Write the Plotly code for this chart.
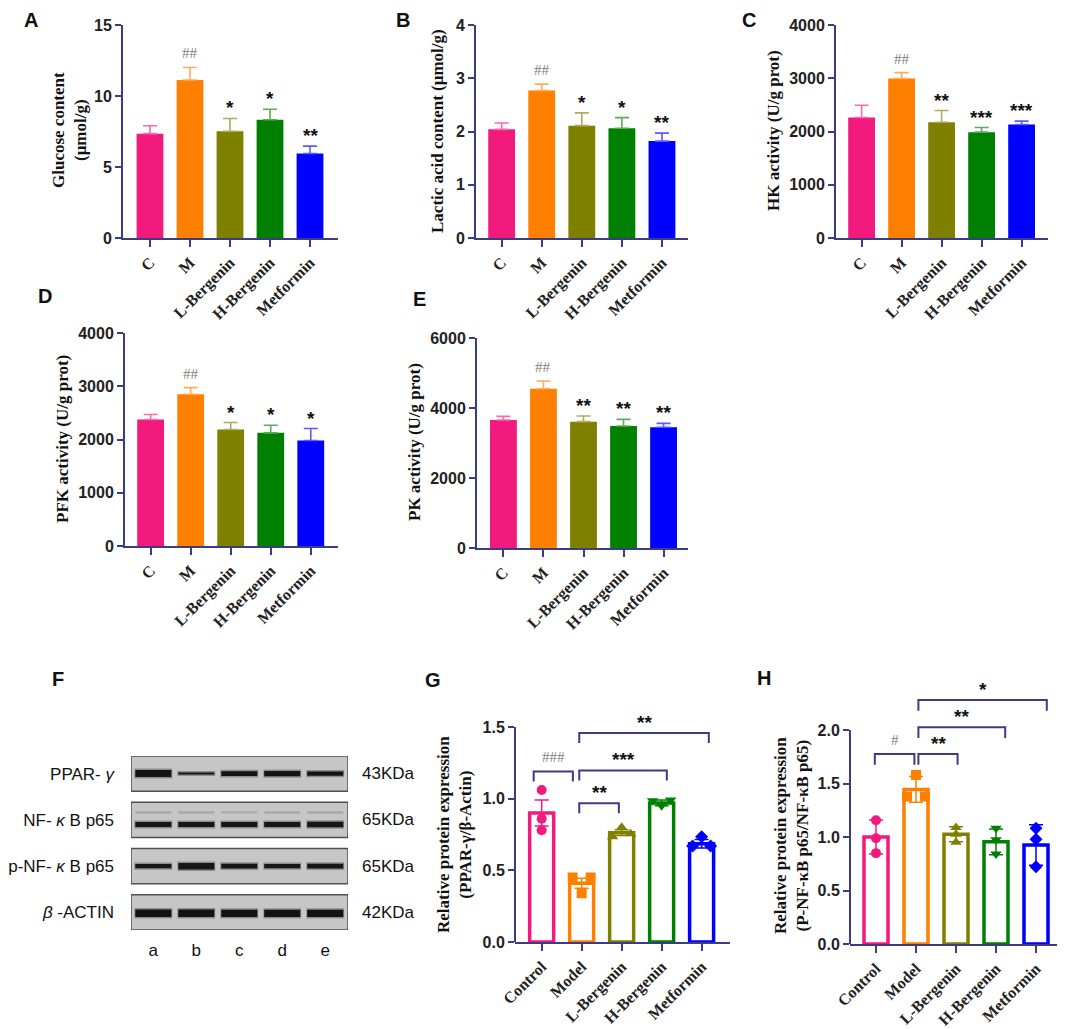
import plotly.graph_objects as go

# the page body adds an 8px margin, so the figure is drawn 8px smaller and
# reference pixel positions are shifted by that amount
OFF = 8
W, H = 1065 - OFF, 1029 - OFF

groups_short = ["C", "M", "L-Bergenin", "H-Bergenin", "Metformin"]
groups_long = ["Control", "Model", "L-Bergenin", "H-Bergenin", "Metformin"]
colors = ["#f31a7e", "#ff7f00", "#808000", "#008000", "#0000ff"]

# panels A-E: mean and upper error
glucose = [7.35, 11.13, 7.52, 8.33, 5.95]
glucose_err = [0.56, 0.88, 0.90, 0.74, 0.52]
glucose_sig = ["", "##", "*", "*", "**"]

lactic = [2.04, 2.77, 2.11, 2.06, 1.82]
lactic_err = [0.12, 0.12, 0.24, 0.20, 0.15]
lactic_sig = ["", "##", "*", "*", "**"]

hk = [2262, 2994, 2175, 1988, 2131]
hk_err = [232, 112, 219, 87, 63]
hk_sig = ["", "##", "**", "***", "***"]

pfk = [2375, 2850, 2188, 2125, 1981]
pfk_err = [94, 125, 131, 144, 225]
pfk_sig = ["", "##", "*", "*", "*"]

pk = [3657, 4552, 3610, 3486, 3448]
pk_err = [105, 219, 161, 190, 114]
pk_sig = ["", "##", "**", "**", "**"]

# panel F: western blot band strength (px) per lane
blot_rows = ["PPAR- <i>γ</i>", "NF- <i>κ</i> B p65", "p-NF- <i>κ</i> B p65", "<i>β</i> -ACTIN"]
blot_kda = ["43KDa", "65KDa", "65KDa", "42KDa"]
lanes = ["a", "b", "c", "d", "e"]
band_ppar = [7.0, 2.0, 4.7, 5.3, 4.2]
band_nf = [5.0, 5.0, 5.0, 5.0, 5.3]
band_nf_faint = [2.6, 2.4, 2.2, 2.4, 2.4]
band_pnf = [4.2, 6.5, 4.6, 4.4, 4.6]
band_actin = [7.5, 7.5, 7.4, 7.3, 7.2]

# panel G
ppar_mean = [0.90, 0.41, 0.763, 0.97, 0.685]
ppar_err = [0.09, 0.035, 0.02, 0.02, 0.03]
ppar_points = [[1.06, 0.86, 0.78], [0.45, 0.45, 0.34], [0.80, 0.755, 0.735],
               [0.95, 0.99, 0.985], [0.735, 0.67, 0.67]]
ppar_comp = [(0, 1, "###"), (1, 2, "**"), (1, 3, "***"), (1, 4, "**")]
ppar_levels = [1.19, 0.968, 1.197, 1.458]

# panel H
nf_mean = [1.0, 1.445, 1.025, 0.955, 0.925]
nf_err = [0.16, 0.12, 0.07, 0.12, 0.19]
nf_points = [[1.157, 0.989, 0.849], [1.58, 1.378, 1.378], [1.089, 1.026, 0.952],
             [1.082, 0.974, 0.84], [1.082, 0.98, 0.722]]
nf_comp = [(0, 1, "#"), (1, 2, "**"), (1, 3, "**"), (1, 4, "*")]
nf_levels = [1.776, 1.776, 2.025, 2.28]

AX = "#3c3c84"
SERIF = "Liberation Serif"
SANS = "Liberation Sans"
symbols = ["circle", "square", "triangle-up", "triangle-down", "diamond"]


def px(x):
    return (x - OFF) / W


def py(y):
    return 1 - (y - OFF) / H


def lighten(hexc, f=0.35):
    r, g, b = int(hexc[1:3], 16), int(hexc[3:5], 16), int(hexc[5:7], 16)
    r, g, b = [int(c + (255 - c) * f) for c in (r, g, b)]
    return f"rgb({r},{g},{b})"


def spread(vals, tol=0.03):
    offs = [0.0] * len(vals)
    order = sorted(range(len(vals)), key=lambda i: vals[i])
    clusters = []
    for i in order:
        if clusters and vals[i] - vals[clusters[-1][-1]] < tol:
            clusters[-1].append(i)
        else:
            clusters.append([i])
    for c in clusters:
        n = len(c)
        for k, i in enumerate(c):
            offs[i] = (k - (n - 1) / 2) * 0.45
    return offs


fig = go.Figure()


def axis_style(ticks_x, ticktext, xr, yr, ytv, xdom, ydom, anchor_x, anchor_y, yfmt=None):
    xa = dict(domain=xdom, range=xr, anchor=anchor_y, tickvals=ticks_x, ticktext=ticktext,
              tickangle=-45, showline=True, linecolor=AX, linewidth=2, ticks="outside",
              ticklen=7, tickwidth=2, tickcolor=AX, showgrid=False, zeroline=False,
              automargin=False,
              tickfont=dict(family=SERIF, size=16, color="#222", weight="bold"))
    ya = dict(domain=ydom, range=yr, anchor=anchor_x, tickvals=ytv, showline=True,
              linecolor=AX, linewidth=2, ticks="outside", ticklen=6, tickwidth=2,
              tickcolor=AX, showgrid=False, zeroline=False, automargin=False,
              tickfont=dict(family=SANS, size=16, color="#222", weight="bold"))
    if yfmt:
        ya["tickformat"] = yfmt
    return xa, ya


def sig_font(lab):
    if lab.startswith("#"):
        return dict(family=SERIF, size=15, color="#808080"), 4
    return dict(family=SANS, size=19, color="#111", weight="bold"), -2


def paper_text(x, y, text, font, angle=0):
    # a label that would reach past the top edge is pinned to it instead
    if y - OFF < font["size"] * 0.75:
        fig.add_annotation(x=px(x), y=1, xref="paper", yref="paper", text=text,
                           showarrow=False, xanchor="center", yanchor="top", borderpad=0,
                           font=font)
        return
    fig.add_annotation(x=px(x), y=py(y), xref="paper", yref="paper", text=text,
                       textangle=angle, showarrow=False, xanchor="center", yanchor="middle",
                       font=font)


title_font = dict(family=SERIF, size=17, color="#111", weight="bold")
letter_font = dict(family=SANS, size=20, color="#111", weight="bold")

layout_axes = {}

bar_panels = [
    (1, glucose, glucose_err, glucose_sig, "Glucose content<br>(μmol/g)", 15, [0, 5, 10, 15],
     (123, 338, 25, 238), (-0.675, 4.7), (70, 130), "A", (31, 12)),
    (2, lactic, lactic_err, lactic_sig, "Lactic acid content (μmol/g)", 4, [0, 1, 2, 3, 4],
     (476, 688, 25, 238), (-0.64, 4.65), (438, 131), "B", (403, 12)),
    (3, hk, hk_err, hk_sig, "HK activity (U/g prot)", 4000, [0, 1000, 2000, 3000, 4000],
     (836, 1048, 25, 238), (-0.64, 4.66), (774, 131), "C", (749, 12)),
    (4, pfk, pfk_err, pfk_sig, "PFK activity (U/g prot)", 4000, [0, 1000, 2000, 3000, 4000],
     (125, 338, 333, 546), (-0.64, 4.68), (63, 439), "D", (45, 296)),
    (5, pk, pk_err, pk_sig, "PK activity (U/g prot)", 6000, [0, 2000, 4000, 6000],
     (477, 688, 338, 548), (-0.66, 4.61), (415, 442), "E", (419, 299)),
]

for idx, vals, err, sig, title, ymax, ytv, box, xr, tpos, letter, lpos in bar_panels:
    xn = "x" if idx == 1 else f"x{idx}"
    yn = "y" if idx == 1 else f"y{idx}"
    for k in range(5):
        fig.add_trace(go.Bar(
            x=[k], y=[vals[k]], width=0.67, xaxis=xn, yaxis=yn,
            marker=dict(color=colors[k], line_width=0),
            error_y=dict(type="data", array=[err[k]], arrayminus=[0], symmetric=False,
                         color=lighten(colors[k]), thickness=1.6, width=7),
            showlegend=False))
        if sig[k]:
            f, shift = sig_font(sig[k])
            fig.add_annotation(x=k, y=vals[k] + err[k], xref=xn, yref=yn, text=sig[k],
                               showarrow=False, yanchor="bottom", yshift=shift, font=f)
    xa, ya = axis_style(list(range(5)), groups_short, list(xr), [0, ymax], ytv,
                        [px(box[0]), px(box[1])], [py(box[3]), py(box[2])], xn, yn)
    layout_axes["xaxis" if idx == 1 else f"xaxis{idx}"] = xa
    layout_axes["yaxis" if idx == 1 else f"yaxis{idx}"] = ya
    paper_text(tpos[0], tpos[1], title, title_font, -90)
    paper_text(lpos[0], lpos[1], letter, letter_font)

# ---- panel F: blot ----
lane_pos = [i + 0.52 for i in range(5)]
bands = [(band_ppar, 0.0, "#141414"), (band_nf_faint, -0.16, "#a9a9a9"),
         (band_nf, 0.1, "#161616"), (band_pnf, 0.0, "#161616"), (band_actin, 0.02, "#121212")]
band_rows = [0, 1, 1, 2, 3]
for r in range(4):
    fig.add_shape(type="rect", xref="x6", yref="y6", x0=0, x1=5.05, y0=r - 0.38, y1=r + 0.38,
                  fillcolor="#c6c6c6", line=dict(color="#505050", width=1.5), layer="below")
for (widths, off, col), r in zip(bands, band_rows):
    for i, w in enumerate(widths):
        x0, x1 = lane_pos[i] - 0.42, lane_pos[i] + 0.42
        if col != "#a9a9a9":
            fig.add_trace(go.Scatter(x=[x0 - 0.02, x1 + 0.02], y=[r + off, r + off], mode="lines",
                                     line=dict(color="rgba(40,40,40,0.35)", width=w + 3),
                                     xaxis="x6", yaxis="y6", showlegend=False, hoverinfo="skip"))
        fig.add_trace(go.Scatter(x=[x0, x1], y=[r + off, r + off], mode="lines",
                                 line=dict(color=col, width=w), xaxis="x6", yaxis="y6",
                                 showlegend=False, hoverinfo="skip"))
layout_axes["xaxis6"] = dict(domain=[px(131), px(348)], range=[0, 5.05], anchor="y6",
                             tickvals=lane_pos, ticktext=lanes, ticks="", showline=False,
                             showgrid=False, zeroline=False, ticklabelstandoff=8,
                             automargin=False,
                             tickfont=dict(family=SANS, size=17, color="#111"))
layout_axes["yaxis6"] = dict(domain=[py(930), py(756)], range=[3.38, -0.38], anchor="x6",
                             tickvals=[0, 1, 2, 3], ticktext=blot_rows, ticks="", showline=False,
                             showgrid=False, zeroline=False, ticklabelstandoff=16,
                             automargin=False,
                             tickfont=dict(family=SANS, size=17, color="#111"))
for r, t in enumerate(blot_kda):
    fig.add_annotation(x=1, xref="x6 domain", y=r, yref="y6", text=t, xanchor="left",
                       xshift=12, showarrow=False, font=dict(family=SANS, size=17, color="#111"))
paper_text(58, 679, "F", letter_font)

# ---- panels G and H ----
dot_panels = [
    (7, ppar_mean, ppar_err, ppar_points, ppar_comp, ppar_levels, 0.07,
     [-0.2, -0.06, -0.06, -0.06], [-0.22, -0.07, 0.13, 0.18],
     "Relative protein expression<br>(PPAR-γ/β-Actin)", 1.5, [0, 0.5, 1.0, 1.5],
     (515, 730, 727, 942), (-0.667, 4.71), (454, 835), "G", (433, 680), 0.1),
    (8, nf_mean, nf_err, nf_points, nf_comp, nf_levels, 0.1,
     [-0.03, 0.06, 0.06, 0.06], [-0.04, 0.04, 0.23, 0.27],
     "Relative protein expression<br>(P-NF-κB p65/NF-κB p65)", 2.0, [0, 0.5, 1.0, 1.5, 2.0],
     (850, 1063, 730, 944), (-0.65, 4.675), (791, 836), "H", (764, 678), 0.45),
]

for (idx, mean, err, pts, comps, levels, leg, s_off, e_off, title, ymax, ytv, box, xr,
     tpos, letter, lpos, head) in dot_panels:
    xn, yn = f"x{idx}", f"y{idx}"
    for k in range(5):
        fig.add_trace(go.Bar(
            x=[k], y=[mean[k]], width=0.6, xaxis=xn, yaxis=yn,
            marker=dict(color="white", line=dict(color=colors[k], width=3.5)),
            error_y=dict(type="data", array=[err[k]], color=colors[k], thickness=1.5, width=7),
            showlegend=False))
    for k in range(5):
        offs = spread(pts[k])
        fig.add_trace(go.Scatter(
            x=[k + o for o in offs], y=pts[k], mode="markers", xaxis=xn, yaxis=yn,
            marker=dict(symbol=symbols[k], size=10, color=colors[k], line_width=0),
            showlegend=False, cliponaxis=False))
    for (a, b, lab), lev, so, eo in zip(comps, levels, s_off, e_off):
        fig.add_trace(go.Scatter(
            x=[a + so, a + so, b + eo, b + eo], y=[lev - leg, lev, lev, lev - leg],
            mode="lines", line=dict(color=AX, width=2), xaxis=xn, yaxis=yn,
            showlegend=False, cliponaxis=False, hoverinfo="skip"))
        f, shift = sig_font(lab)
        fig.add_annotation(x=(a + so + b + eo) / 2, y=lev, xref=xn, yref=yn, text=lab,
                           showarrow=False, yanchor="bottom", yshift=shift, font=f)
    # extend the plotting area upward so brackets are not clipped,
    # and draw the y axis line only up to the last tick
    top_px = box[2] - head * (box[3] - box[2]) / ymax
    xa, ya = axis_style(list(range(5)), groups_long, list(xr), [0, ymax + head], ytv,
                        [px(box[0]), px(box[1])], [py(box[3]), py(top_px)], xn, yn, ".1f")
    ya["showline"] = False
    layout_axes[f"xaxis{idx}"] = xa
    layout_axes[f"yaxis{idx}"] = ya
    fig.add_shape(type="line", xref=f"{xn} domain", yref=yn, x0=0, x1=0, y0=0, y1=ymax,
                  line=dict(color=AX, width=2))
    paper_text(tpos[0], tpos[1], title, title_font, -90)
    paper_text(lpos[0], lpos[1], letter, letter_font)

fig.update_layout(width=W, height=H, margin=dict(l=0, r=0, t=0, b=0),
                  paper_bgcolor="white", plot_bgcolor="white", barmode="overlay",
                  showlegend=False, **layout_axes)

fig.write_html("out.html")
